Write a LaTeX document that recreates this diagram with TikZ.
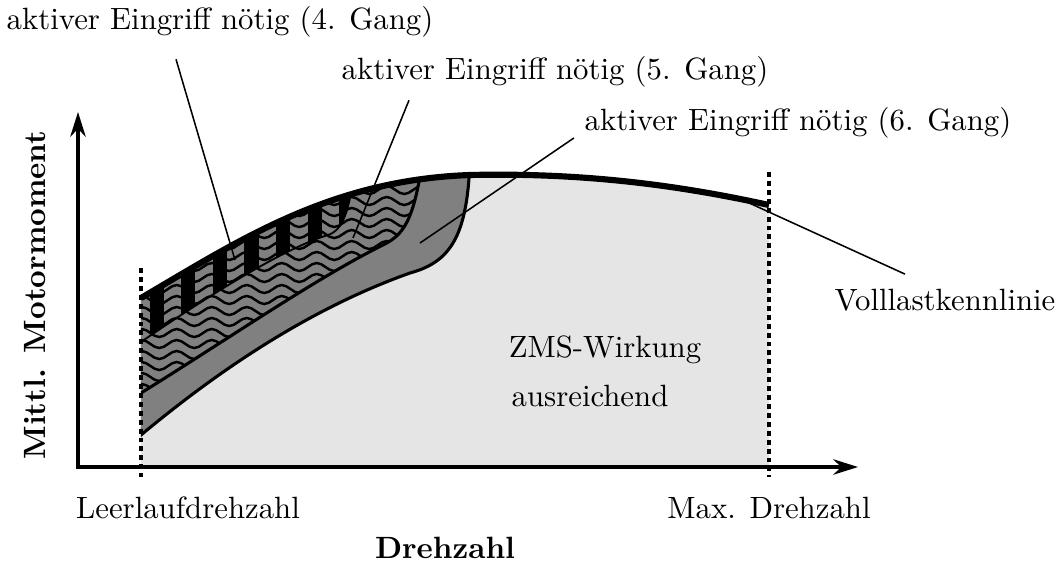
\documentclass[tikz,border=0pt]{standalone}
\usepackage{amsmath}
\usepackage{tikz}
\usetikzlibrary{arrows.meta}

\begin{document}
\begin{tikzpicture}[x=0.325pt, y=0.325pt,
    band/.style={fill=gray, draw=black, line width=1pt},
    wave/.style={line width=0.8pt},
    leader/.style={line width=0.5pt},
    limit/.style={line width=1pt, dash pattern=on 1.6pt off 1.3pt},
    axis/.style={line width=1pt, {Stealth[length=8pt, width=5pt, inset=2.5pt]}-{Stealth[length=8pt, width=5pt, inset=2.5pt]}}]
    \useasboundingbox (-78,-103) rectangle (984,467);
    % Flaeche unter der Volllastkennlinie
    \begin{scope}
        \clip (63,169) .. controls (162,227) and (252,287) .. (392,292) .. controls (522,295) and (622,277) .. (691,262) -- (691,0) -- (63,0) -- cycle;
        \fill[gray!20] (63,0) rectangle (691,300);
        % 6. Gang
        \filldraw[band] (63,32) .. controls (153,107) and (242,162) .. (332,194) .. controls (372,205) and (390,230) .. (392,310) -- (0,310) -- cycle;
        % 5. Gang
        \begin{scope}
            \clip (63,74) .. controls (150,128) and (240,190) .. (305,222) .. controls (325,232) and (336,245) .. (345,310) -- (0,310) -- cycle;
            \fill[gray] (0,0) rectangle (400,320);
            \foreach \k in {0,...,21}
                \draw[wave] (55,68+11*\k) \foreach \p in {1,...,10} {sin ++(8.75,4) cos ++(8.75,-4) sin ++(8.75,-4) cos ++(8.75,4)};
            % 4. Gang
            \begin{scope}
                \clip (63,125) .. controls (140,178) and (210,220) .. (250,232) .. controls (265,237) and (272,255) .. (278,310) -- (0,310) -- cycle;
                \foreach \b in {0,...,6}
                    \fill (72+31.5*\b,100) rectangle ++(14,220);
            \end{scope}
        \end{scope}
        \draw[line width=1pt] (63,74) .. controls (150,128) and (240,190) .. (305,222) .. controls (325,232) and (336,245) .. (345,310);
        \draw[line width=0.6pt] (63,125) .. controls (140,178) and (210,220) .. (250,232) .. controls (265,237) and (272,255) .. (278,310);
    \end{scope}
    % Volllastkennlinie
    \draw[line width=2pt] (63,169) .. controls (162,227) and (252,287) .. (392,292) .. controls (522,295) and (622,277) .. (691,262);
    % Grenzen
    \coordinate (leerop) at (63,199);
    \coordinate (leerun) at (63,-10);
    \coordinate (maxop) at (691,295);
    \coordinate (maxun) at (691,-10);
    \draw[limit] (leerop) -- (leerun);
    \draw[limit] (maxop) -- (maxun);
    % Achsen
    \coordinate (O) at (0,0);
    \coordinate (ytip) at (0,355);
    \coordinate (xtip) at (780,0);
    \draw[axis] (ytip) -- (O) -- (xtip);
    % Beschriftung
    \node (g4) at (142,445) {aktiver Eingriff nötig (4. Gang)};
    \node (g5) at (477,395) {aktiver Eingriff nötig (5. Gang)};
    \node (g6) at (720,344) {aktiver Eingriff nötig (6. Gang)};
    \node (voll) at (867,167) {Volllastkennlinie};
    \node (zms) at (527,117) {ZMS-Wirkung};
    \node (aus) at (512,71) {ausreichend};
    \node (leer) at (110,-41) {Leerlaufdrehzahl};
    \node (nmax) at (691,-41) {Max. Drehzahl};
    \node[font=\bfseries] (xlab) at (367,-81) {Drehzahl};
    \node[font=\bfseries, rotate=90] (ylab) at (-43,172) {Mittl. Motormoment};
    % Hinweislinien
    \coordinate (p4) at (157,207);
    \coordinate (p5) at (275,229);
    \coordinate (p6) at (342,224);
    \coordinate (pv) at (669,265);
    \draw[leader] (g4.south) ++(-44,-11) -- (p4);
    \draw[leader] (g5.south) ++(-146,-2) -- (p5);
    \draw[leader] (g6.west) ++(0,-15) -- (p6);
    \draw[leader] (voll.north) ++(-40,4) -- (pv);
\end{tikzpicture}
\end{document}
